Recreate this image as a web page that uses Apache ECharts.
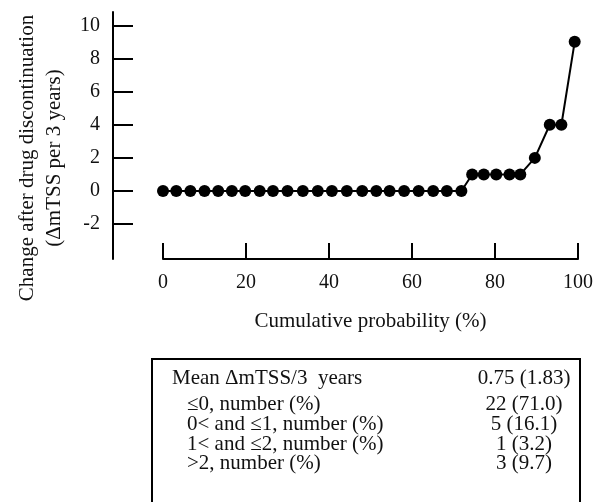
<!DOCTYPE html>
<html>
<head>
<meta charset="utf-8">
<script src="https://cdn.jsdelivr.net/npm/echarts@6/dist/echarts.min.js"></script>
<style>
  html, body { margin: 0; padding: 0; background: #fff; }
  #chart { width: 602px; height: 502px; }
</style>
</head>
<body>
<div id="chart"></div>
<script>
// cumulative probability (%) of each patient, and change in mTSS per 3 years
var cumProb = [0, 3.2, 6.6, 10, 13.3, 16.6, 19.8, 23.3, 26.5, 30, 33.7, 37.3, 40.7, 44.3, 48, 51.4,
  54.6, 58.1, 61.6, 65.1, 68.4, 71.9, 74.5, 77.3, 80.3, 83.5, 86.1, 89.6, 93.2, 96, 99.2]
var deltaMtss = [0, 0, 0, 0, 0, 0, 0, 0, 0, 0, 0, 0, 0, 0, 0, 0,
  0, 0, 0, 0, 0, 0, 1, 1, 1, 1, 1, 2, 4, 4, 9]
var yTicks = [-2, 0, 2, 4, 6, 8, 10]
var xTicks = [0, 20, 40, 60, 80, 100]

var tableLabels = ['Mean \u0394mTSS/3  years', '\u22640, number (%)', '0< and \u22641, number (%)',
  '1< and \u22642, number (%)', '>2, number (%)']
var tableValues = ['0.75 (1.83)', '22 (71.0)', '5 (16.1)', '1 (3.2)', '3 (9.7)']

var font = '"Liberation Serif", "Times New Roman", serif'
var chart = echarts.init(document.getElementById('chart'))

var rowY = [378, 404, 424, 444, 463]
var tableText = []
tableLabels.forEach(function (t, i) {
  tableText.push({
    type: 'text', x: i === 0 ? 172 : 187, y: rowY[i],
    style: { text: t, font: '21px ' + font, fill: '#111', align: 'left', verticalAlign: 'middle' }
  })
  tableText.push({
    type: 'text', x: 524, y: rowY[i],
    style: { text: tableValues[i], font: '21px ' + font, fill: '#111', align: 'center', verticalAlign: 'middle' }
  })
})

var option = {
  backgroundColor: '#fff',
  animation: false,
  grid: { left: 163, right: 24, top: 12, bottom: 243 },
  xAxis: {
    type: 'value',
    min: 0,
    max: 100,
    interval: 20,
    name: 'Cumulative probability (%)',
    nameLocation: 'middle',
    nameGap: 52,
    nameTextStyle: { fontFamily: font, fontSize: 21, color: '#111' },
    axisLine: { show: true, onZero: false, lineStyle: { color: '#000', width: 2 } },
    axisTick: { show: true, inside: true, length: 16, lineStyle: { color: '#000', width: 2 },
      customValues: xTicks },
    axisLabel: { fontFamily: font, fontSize: 20, color: '#111', margin: 14, customValues: xTicks },
    splitLine: { show: false }
  },
  yAxis: {
    type: 'value',
    min: -4.1,
    max: 10.8,
    offset: 50,
    axisLine: { show: true, onZero: false, lineStyle: { color: '#000', width: 2 } },
    axisTick: { show: true, inside: true, length: 20, lineStyle: { color: '#000', width: 2 },
      customValues: yTicks },
    axisLabel: { fontFamily: font, fontSize: 20, color: '#111', margin: 13, customValues: yTicks },
    splitLine: { show: false }
  },
  graphic: [
    {
      type: 'text', x: 41, y: 158, rotation: Math.PI / 2,
      style: {
        text: 'Change after drug discontinuation\n(\u0394mTSS per 3 years)',
        font: '21px ' + font, fill: '#111', align: 'center', verticalAlign: 'middle', lineHeight: 27
      }
    },
    {
      type: 'rect', shape: { x: 152, y: 359, width: 428, height: 160 },
      style: { fill: 'none', stroke: '#000', lineWidth: 2 }
    }
  ].concat(tableText),
  series: [{
    type: 'line',
    data: cumProb.map(function (x, i) { return [x, deltaMtss[i]] }),
    symbol: 'circle',
    symbolSize: 12,
    itemStyle: { color: '#000' },
    lineStyle: { color: '#000', width: 2 }
  }]
}

chart.setOption(option)
</script>
</body>
</html>
